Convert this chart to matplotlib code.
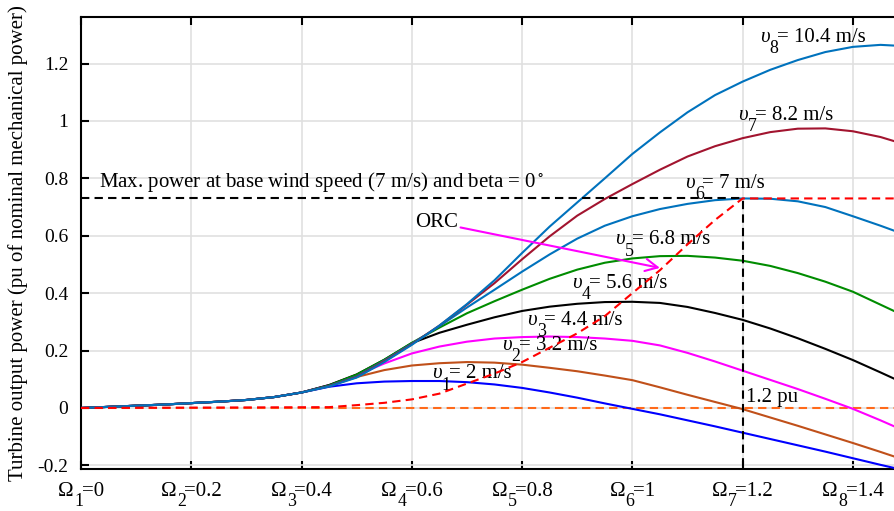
import numpy as np
import matplotlib
matplotlib.use("Agg")
import matplotlib.pyplot as plt

plt.rcParams["font.family"] = ["Liberation Serif", "DejaVu Serif"]
plt.rcParams["mathtext.fontset"] = "stix"

# rotor speed grid (pu), step 0.05
speed = np.round(np.arange(0, 1.5001, 0.05), 2)

# common start of all curves (0 .. 0.4 pu)
low = [0.0, 0.004, 0.008, 0.012, 0.017, 0.022, 0.028, 0.038, 0.054]

p_v1 = low + [0.074, 0.086, 0.092, 0.094, 0.094, 0.090, 0.082, 0.070, 0.054, 0.036, 0.016,
              -0.003, -0.022, -0.043, -0.064, -0.086, -0.108, -0.130, -0.152, -0.175, -0.198, -0.220]
p_v2 = low + [0.078, 0.108, 0.132, 0.148, 0.156, 0.160, 0.158, 0.151, 0.140, 0.128, 0.113,
              0.097, 0.072, 0.046, 0.021, -0.004, -0.033, -0.062, -0.092, -0.122, -0.153, -0.185]
p_v3 = low + [0.080, 0.114, 0.155, 0.190, 0.214, 0.231, 0.242, 0.247, 0.249, 0.247, 0.242,
              0.234, 0.218, 0.192, 0.162, 0.130, 0.098, 0.066, 0.032, -0.003, -0.043, -0.085]
p_v4 = low + [0.080, 0.117, 0.168, 0.226, 0.262, 0.290, 0.316, 0.338, 0.353, 0.363, 0.369,
              0.370, 0.366, 0.352, 0.331, 0.307, 0.277, 0.243, 0.206, 0.167, 0.124, 0.080]
p_v5 = low + [0.079, 0.116, 0.168, 0.227, 0.280, 0.330, 0.372, 0.412, 0.450, 0.482, 0.506,
              0.521, 0.529, 0.530, 0.524, 0.513, 0.495, 0.470, 0.440, 0.405, 0.360, 0.315]
p_v6 = low + [0.077, 0.110, 0.165, 0.224, 0.285, 0.350, 0.412, 0.475, 0.535, 0.590, 0.635,
              0.668, 0.693, 0.711, 0.724, 0.730, 0.729, 0.720, 0.700, 0.668, 0.635, 0.600]
p_v7 = low + [0.076, 0.108, 0.163, 0.222, 0.287, 0.360, 0.435, 0.518, 0.598, 0.670, 0.728,
              0.780, 0.830, 0.876, 0.912, 0.940, 0.961, 0.973, 0.974, 0.964, 0.944, 0.915]
p_v8 = low + [0.075, 0.106, 0.160, 0.220, 0.287, 0.362, 0.445, 0.540, 0.632, 0.716, 0.800,
              0.885, 0.960, 1.030, 1.090, 1.137, 1.178, 1.212, 1.240, 1.258, 1.265, 1.260]

# optimal regime characteristic (ORC)
orc_x = [0, 0.45, 0.5, 0.55, 0.6, 0.65, 0.7, 0.75, 0.8, 0.85, 0.9, 0.95, 1.0, 1.05,
         1.1, 1.15, 1.2, 1.5]
orc_y = [0, 0.003, 0.010, 0.018, 0.030, 0.050, 0.085, 0.120, 0.160, 0.210, 0.260,
         0.320, 0.400, 0.480, 0.570, 0.655, 0.730, 0.730]

p_max = 0.73
speed_max = 1.2

curves = [p_v1, p_v2, p_v3, p_v4, p_v5, p_v6, p_v7, p_v8]
colors = ["#0000FF", "#C0501A", "#FF00FF", "#000000", "#008C00", "#0072BD", "#A2142F", "#0072BD"]
wind_idx = ["1", "2", "3", "4", "5", "6", "7", "8"]
wind_txt = ["= 2 m/s", "= 3.2 m/s", "= 4.4 m/s", "= 5.6 m/s", "= 6.8 m/s", "= 7 m/s",
            "= 8.2 m/s", "= 10.4 m/s"]
label_pos = [(0.636, 0.103), (0.763, 0.202), (0.809, 0.289), (0.890, 0.418),
             (0.968, 0.570), (1.095, 0.768), (1.191, 1.003), (1.231, 1.276)]

xticks = [0, 0.2, 0.4, 0.6, 0.8, 1.0, 1.2, 1.4]
xtick_idx = ["1", "2", "3", "4", "5", "6", "7", "8"]
xtick_val = ["=0", "=0.2", "=0.4", "=0.6", "=0.8", "=1", "=1.2", "=1.4"]
yticks = [-0.2, 0, 0.2, 0.4, 0.6, 0.8, 1.0, 1.2]
yticklabels = ["-0.2", "0", "0.2", "0.4", "0.6", "0.8", "1", "1.2"]

FS = 15

fig = plt.figure(figsize=(8.94, 5.11), dpi=100)
ax = fig.add_axes([0.0906, 0.0822, 0.9251, 0.8845])


def sub_label(xy, coords, base, sub, rest, size, style="normal", dy=0.0, drop=7.5):
    # MATLAB-like label: symbol, low subscript, then the rest of the text
    t1 = ax.annotate(base, xy=xy, xycoords=coords, xytext=(0, dy), textcoords="offset points",
                     fontsize=size, fontstyle=style, ha="left", va="baseline",
                     annotation_clip=False, zorder=5)
    t2 = ax.annotate(sub, xy=(1, 0), xycoords=t1, xytext=(0.3, -drop),
                     textcoords="offset points", fontsize=size * 0.86,
                     ha="left", va="bottom", annotation_clip=False, zorder=5)
    t3 = ax.annotate(rest, xy=(1, 0), xycoords=t2, xytext=(-1.2, drop),
                     textcoords="offset points", fontsize=size,
                     ha="left", va="bottom", annotation_clip=False, zorder=5)
    return t1, t2, t3


dash = (4, 2.5)
ax.plot([0, 1.5], [0, 0], color="#FF6A1A", lw=1.5, dashes=dash, zorder=2)
for y, c in zip(curves, colors):
    ax.plot(speed, y, color=c, lw=1.5, zorder=3)

ax.plot([0, speed_max], [p_max, p_max], color="black", lw=1.5, dashes=dash, zorder=4)
ax.plot([speed_max, speed_max], [-0.25, p_max], color="black", lw=1.5, dashes=dash, zorder=4)
ax.plot(orc_x, orc_y, color="#FF0000", lw=1.5, dashes=dash, zorder=6)

for i, t, p in zip(wind_idx, wind_txt, label_pos):
    sub_label(p, "data", "υ", i, t, FS, style="italic")

ax.text(0.033, 0.769, r"Max. power at base wind speed (7 m/s) and beta = 0$^\circ$",
        fontsize=FS, ha="left", va="baseline")
ax.text(1.207, 0.022, "1.2 pu", fontsize=FS, ha="left", va="baseline")
ax.annotate("ORC", xy=(1.05, 0.488), xytext=(0.6056, 0.646), fontsize=FS,
            ha="left", va="center",
            arrowprops=dict(arrowstyle="->", color="#FF00FF", lw=1.5,
                            mutation_scale=22, shrinkA=0, shrinkB=0),
            zorder=5)

ax.set_xlim(0, 1.5)
ax.set_ylim(-0.2125, 1.362)
ax.set_xticks(xticks)
ax.set_xticklabels([])
ax.set_yticks(yticks)
ax.set_yticklabels(yticklabels)
ax.tick_params(direction="in", length=6, width=1.5, top=True, right=True,
               labelsize=14, pad=9)
ax.grid(True, color="#E0E0E0", lw=1.2)
ax.set_axisbelow(True)
for s in ax.spines.values():
    s.set_linewidth(1.5)
ax.set_ylabel("Turbine output power (pu of nominal mechanical power)", fontsize=FS)
ax.yaxis.set_label_coords(-0.064, 0.5)

# x tick labels: Omega with low subscript, centred on the tick
TICK_DY = -19.5
tick_texts = []
for xt, i, v in zip(xticks, xtick_idx, xtick_val):
    tick_texts.append(sub_label((xt, 0), ax.get_xaxis_transform(), "Ω", i, v, FS,
                                dy=TICK_DY, drop=6.5))

fig.canvas.draw()
for t1, t2, t3 in tick_texts:
    b1 = t1.get_window_extent()
    b3 = t3.get_window_extent()
    w = (b3.x1 - b1.x0) * 72.0 / fig.dpi
    t1.xyann = (-w / 2.0, TICK_DY)

fig.savefig("out.png", dpi=100)
